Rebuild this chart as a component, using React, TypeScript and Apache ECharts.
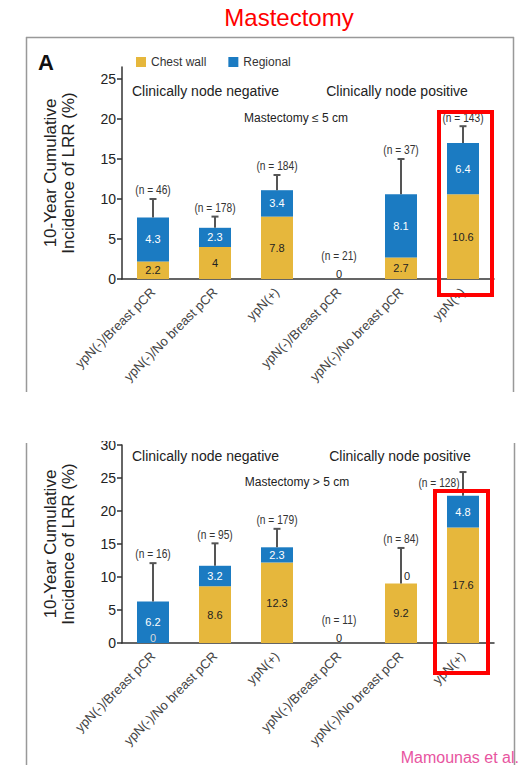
import React, { useEffect, useRef } from 'react';
import * as echarts from 'echarts';

const categories = [
  'ypN(-)/Breast pCR',
  'ypN(-)/No breast pCR',
  'ypN(+)',
  'ypN(-)/Breast pCR',
  'ypN(-)/No breast pCR',
  'ypN(+)',
];
const seriesNames = ['Chest wall', 'Regional'];
const yTicks = [0, 5, 10, 15, 20, 25];
const yTicksBottom = [0, 5, 10, 15, 20, 25, 30];

// Panel 1: Mastectomy <= 5 cm
const chestWallTop = [2.2, 4.0, 7.8, 0, 2.7, 10.6];
const regionalTop = [5.5, 2.4, 3.3, 0, 7.9, 6.4];
const errorTop: (number | null)[] = [10.0, 7.8, 13.0, null, 15.0, 19.1];
const nTop = ['(n = 46)', '(n = 178)', '(n = 184)', '(n = 21)', '(n = 37)', '(n = 143)'];
const chestLabelsTop = ['2.2', '4', '7.8', '0', '2.7', '10.6'];
const regionalLabelsTop = ['4.3', '2.3', '3.4', '', '8.1', '6.4'];

// Panel 2: Mastectomy > 5 cm
const chestWallBottom = [0, 8.6, 12.2, 0, 9.0, 17.5];
const regionalBottom = [6.3, 3.1, 2.3, 0, 0, 4.8];
const errorBottom: (number | null)[] = [12.1, 15.1, 17.3, null, 14.4, 25.9];
const nBottom = ['(n = 16)', '(n = 95)', '(n = 179)', '(n = 11)', '(n = 84)', '(n = 128)'];
const chestLabelsBottom = ['0', '8.6', '12.3', '0', '9.2', '17.6'];
const regionalLabelsBottom = ['6.2', '3.2', '2.3', '', '0', '4.8'];

const YELLOW = '#E6B73C';
const BLUE = '#1B7BC2';
const FONT = "'Liberation Sans', Arial, sans-serif";

// label offsets (style only) for n-labels, [dx, dy]
const nOffsetsTop = [[0, 0], [0, 0], [0, 0], [0, 0], [0, 0], [0, 0]];
const nOffsetsBottom = [[0, 0], [0, 0], [0, 0], [0, 0], [0, 0], [-24, 20]];

function barSeries(grid: number, chest: number[], regional: number[], chestLbl: string[], regLbl: string[]) {
  const stack = 'stack' + grid;
  const chestData = chest.map((v, i) => {
    if (v === 0) {
      return {
        value: v,
        label: {
          position: 'top',
          distance: 0,
          color: regional[i] > 0 ? '#d8d8d8' : '#222',
        },
      };
    }
    return { value: v };
  });
  const regData = regional.map((v, i) => {
    if (v === 0 && regLbl[i] !== '') {
      return { value: v, label: { position: 'top', distance: 2, offset: [6, 0], color: '#222' } };
    }
    return { value: v };
  });
  const lbl = { show: true, position: 'inside', fontFamily: FONT, fontSize: 11, fontWeight: 500 };
  return [
    {
      name: seriesNames[0],
      type: 'bar',
      xAxisIndex: grid,
      yAxisIndex: grid,
      stack,
      barWidth: 32,
      itemStyle: { color: YELLOW },
      data: chestData,
      label: { ...lbl, color: '#222', formatter: (p: any) => chestLbl[p.dataIndex] },
    },
    {
      name: seriesNames[1],
      type: 'bar',
      xAxisIndex: grid,
      yAxisIndex: grid,
      stack,
      barWidth: 32,
      itemStyle: { color: BLUE },
      data: regData,
      label: { ...lbl, color: '#fff', formatter: (p: any) => regLbl[p.dataIndex] },
    },
  ];
}

function errorSeries(grid: number, chest: number[], regional: number[], errs: (number | null)[], ns: string[], offs: number[][]) {
  return {
    type: 'custom',
    xAxisIndex: grid,
    yAxisIndex: grid,
    z: 5,
    data: categories.map((_, i) => [i, chest[i] + regional[i], errs[i] == null ? 0 : errs[i]]),
    renderItem: (params: any, api: any) => {
      const i = params.dataIndex;
      const base = api.coord([i, api.value(1)]);
      const children: any[] = [];
      let labelY: number;
      if (errs[i] != null) {
        const top = api.coord([i, errs[i]]);
        children.push({
          type: 'line',
          shape: { x1: base[0], y1: base[1], x2: top[0], y2: top[1] },
          style: { stroke: '#555', lineWidth: 2 },
        });
        children.push({
          type: 'line',
          shape: { x1: top[0] - 3.5, y1: top[1], x2: top[0] + 3.5, y2: top[1] },
          style: { stroke: '#555', lineWidth: 2 },
        });
        labelY = top[1] - 9;
      } else {
        labelY = base[1] - 23;
      }
      children.push({
        type: 'text',
        x: base[0] + offs[i][0],
        y: labelY + offs[i][1],
        scaleX: 0.85,
        style: {
          text: ns[i],
          align: 'center',
          verticalAlign: 'middle',
          fontFamily: FONT,
          fontSize: 12,
          fill: '#333',
        },
      });
      return { type: 'group', children };
    },
  };
}

function yAxis(grid: number, max: number, ticks: number[]) {
  return {
    type: 'value',
    gridIndex: grid,
    min: 0,
    max,
    name: '10-Year Cumulative\nIncidence of LRR (%)',
    nameLocation: 'middle',
    nameGap: 45,
    nameTextStyle: { fontFamily: FONT, fontSize: 17, color: '#222', lineHeight: 18 },
    splitLine: { show: false },
    axisLine: { show: true, lineStyle: { color: '#333', width: 1.5 } },
    axisTick: { show: true, length: 5, customValues: ticks, lineStyle: { color: '#333', width: 1.5 } },
    axisLabel: { customValues: ticks, fontFamily: FONT, fontSize: 14, color: '#222', margin: 6 },
  };
}

function xAxis(grid: number) {
  return {
    type: 'category',
    gridIndex: grid,
    data: categories,
    axisTick: { show: false },
    axisLine: { lineStyle: { color: '#333', width: 1.5 } },
    axisLabel: {
      interval: 0,
      rotate: 45,
      margin: 11,
      fontFamily: FONT,
      fontSize: 13,
      color: '#444',
    },
  };
}

export default function App() {
  const ref = useRef<HTMLDivElement>(null);
  useEffect(() => {
    if (!ref.current) return;
    const chart = echarts.init(ref.current, null, { renderer: 'svg' });
    const option: any = {
      animation: false,
      backgroundColor: '#fff',
      legend: {
        left: 131,
        top: 51,
        icon: 'rect',
        itemWidth: 10,
        itemHeight: 10,
        itemGap: 22,
        data: seriesNames,
        textStyle: { fontFamily: FONT, fontSize: 12, color: '#333' },
        selectedMode: false,
      },
      grid: [
        { left: 122, width: 372, top: 67, height: 212 },
        { left: 122, width: 372, top: 445, height: 198 },
      ],
      xAxis: [xAxis(0), xAxis(1)],
      yAxis: [yAxis(0, 26.5, yTicks), yAxis(1, 30, yTicksBottom)],
      series: [
        ...barSeries(0, chestWallTop, regionalTop, chestLabelsTop, regionalLabelsTop),
        errorSeries(0, chestWallTop, regionalTop, errorTop, nTop, nOffsetsTop),
        ...barSeries(1, chestWallBottom, regionalBottom, chestLabelsBottom, regionalLabelsBottom),
        errorSeries(1, chestWallBottom, regionalBottom, errorBottom, nBottom, nOffsetsBottom),
      ],
      graphic: [
        { type: 'text', x: 289, y: 17, style: { text: 'Mastectomy', fontFamily: FONT, fontSize: 24, fill: '#FF0000', align: 'center', verticalAlign: 'middle' } },
        // panel frame
        { type: 'line', shape: { x1: 26, y1: 37.5, x2: 514, y2: 37.5 }, style: { stroke: '#999', lineWidth: 1.5 } },
        { type: 'line', shape: { x1: 26.5, y1: 37, x2: 26.5, y2: 392 }, style: { stroke: '#999', lineWidth: 1.5 } },
        { type: 'line', shape: { x1: 513.5, y1: 37, x2: 513.5, y2: 392 }, style: { stroke: '#999', lineWidth: 1.5 } },
        { type: 'line', shape: { x1: 26.5, y1: 443, x2: 26.5, y2: 765 }, style: { stroke: '#999', lineWidth: 1.5 } },
        { type: 'line', shape: { x1: 514.5, y1: 443, x2: 514.5, y2: 765 }, style: { stroke: '#999', lineWidth: 1.5 } },
        { type: 'text', x: 38, y: 62, style: { text: 'A', fontFamily: FONT, fontWeight: 'bold', fontSize: 22, fill: '#111', verticalAlign: 'middle' } },
        { type: 'text', x: 132, y: 91, style: { text: 'Clinically node negative', fontFamily: FONT, fontSize: 14, fill: '#222', verticalAlign: 'middle' } },
        { type: 'text', x: 397, y: 91, style: { text: 'Clinically node positive', fontFamily: FONT, fontSize: 14, fill: '#222', align: 'center', verticalAlign: 'middle' } },
        { type: 'text', x: 296, y: 118, style: { text: 'Mastectomy \u2264 5 cm', fontFamily: FONT, fontSize: 12, fill: '#222', align: 'center', verticalAlign: 'middle' } },
        { type: 'text', x: 132, y: 456, style: { text: 'Clinically node negative', fontFamily: FONT, fontSize: 14, fill: '#222', verticalAlign: 'middle' } },
        { type: 'text', x: 400, y: 456, style: { text: 'Clinically node positive', fontFamily: FONT, fontSize: 14, fill: '#222', align: 'center', verticalAlign: 'middle' } },
        { type: 'text', x: 297, y: 482, style: { text: 'Mastectomy > 5 cm', fontFamily: FONT, fontSize: 12, fill: '#222', align: 'center', verticalAlign: 'middle' } },
        // crop mask over the top of the "30" label
        { type: 'rect', z: 100, shape: { x: 80, y: 428, width: 38, height: 13 }, style: { fill: '#fff' } },
        // red highlight boxes
        { type: 'rect', z: 100, shape: { x: 439, y: 112, width: 53, height: 183 }, style: { fill: 'none', stroke: '#FF0000', lineWidth: 4 } },
        { type: 'rect', z: 100, shape: { x: 435, y: 491, width: 53, height: 182 }, style: { fill: 'none', stroke: '#FF0000', lineWidth: 4 } },
        { type: 'text', x: 519, y: 757, style: { text: 'Mamounas et al.', fontFamily: FONT, fontSize: 16, fill: '#E8559F', align: 'right', verticalAlign: 'middle' } },
      ],
    };
    chart.setOption(option);
    return () => chart.dispose();
  }, []);
  return <div ref={ref} style={{ position: 'absolute', left: 0, top: 0, width: 526, height: 765 }} />;
}
